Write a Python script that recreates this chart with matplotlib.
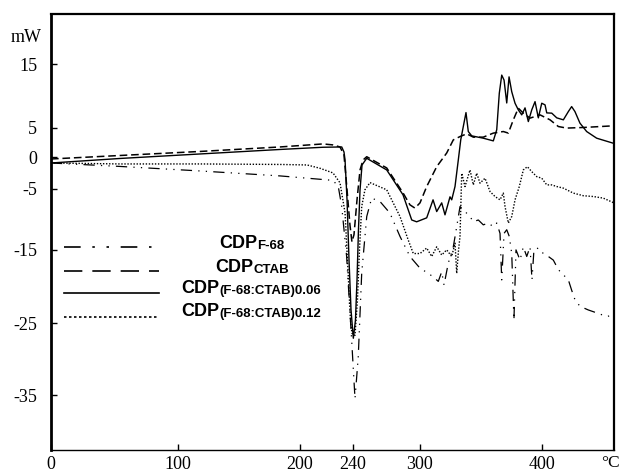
import matplotlib
matplotlib.use('Agg')
import matplotlib.pyplot as plt
import numpy as np

plt.rcParams['font.family'] = ['Liberation Serif', 'DejaVu Serif']
plt.rcParams['axes.unicode_minus'] = False

# DSC traces: temperature (°C) and heat flow (mW)
t_f68 = [0, 54.3, 118.0, 183.6, 220.4, 224.9, 228.9, 231.5, 235.2, 239.0,
         241.8, 244.7, 247.8, 252.3, 256.7, 264.2, 273.1, 282.1, 291.0, 300.0,
         306.8, 310.9, 315.0, 317.8, 319.7, 323.2, 327.3, 330.1, 332.8, 335.5,
         336.9, 341.0, 343.7, 347.8, 351.9, 356.0, 360.1, 362.9, 365.6, 367.0,
         368.9, 371.1, 373.2, 375.2, 377.0, 378.7, 382.0, 384.7, 387.5, 390.2,
         391.8, 393.4, 397.0, 401.1, 405.2, 409.3, 413.4, 417.5, 421.6, 424.3,
         427.0, 431.1, 437.9, 444.8, 453.0, 458.4]
q_f68 = [-0.94, -1.48, -2.19, -2.97, -3.59, -3.67, -4.64, -7.9, -15.9, -27.4,
         -35.5, -29.7, -18.2, -9.54, -6.52, -7.08, -8.98, -12.8, -15.9, -17.5,
         -18.2, -18.7, -19.3, -18.0, -19.8, -16.8, -14.5, -11.2, -7.9, -8.44,
         -8.72, -9.54, -10.4, -10.1, -10.9, -10.6, -11.2, -10.6, -12.3, -19.1,
         -12.3, -11.7, -12.8, -15.5, -24.6, -15.0, -16.4, -14.5, -15.9, -14.5,
         -19.1, -15.0, -14.7, -15.5, -15.9, -16.4, -17.7, -18.4, -19.1, -20.5,
         -21.8, -22.7, -23.2, -23.6, -24.1, -23.9]

t_ctab = [0, 54.3, 118.0, 183.6, 217.4, 224.9, 230.2, 233.2, 235.5, 237.7,
          239.2, 240.9, 243.6, 246.3, 249.0, 252.3, 270.2, 284.8, 291.0, 295.5,
          300.0, 305.5, 313.7, 321.9, 327.3, 332.8, 338.3, 343.7, 351.9, 360.1,
          368.3, 372.4, 376.5, 380.6, 384.7, 390.2, 398.4, 406.6, 413.4, 420.2,
          433.9, 458.4]
q_ctab = [-0.31, 0.26, 0.95, 1.72, 2.24, 2.07, 1.72, 0.34, -5.16, -10.9,
          -13.7, -12.5, -6.8, -2.03, -0.47, 0.05, -1.72, -5.66, -7.62, -8.16,
          -7.3, -4.64, -1.52, 0.69, 2.93, 3.5, 3.97, 3.4, 3.4, 4.09,
          4.36, 4.09, 6.25, 8.08, 7.3, 6.52, 7.03, 6.25, 5.2, 4.95,
          5.05, 5.31]

t_006 = [0, 54.3, 118.0, 183.6, 217.4, 231.5, 233.2, 234.0, 235.5, 237.0,
         238.5, 240.3, 242.2, 243.6, 244.9, 246.3, 248.1, 252.3, 270.2, 284.8,
         292.6, 297.0, 305.5, 310.7, 313.7, 317.8, 320.5, 324.6, 326.0, 328.7,
         331.4, 333.4, 335.5, 337.7, 339.6, 342.4, 351.9, 360.1, 362.9, 365.0,
         367.0, 368.9, 371.1, 373.0, 375.2, 377.9, 380.6, 383.4, 386.1, 388.8,
         391.6, 394.3, 397.0, 399.8, 402.5, 403.9, 408.0, 412.1, 417.5, 421.6,
         424.3, 427.0, 431.1, 436.6, 444.8, 458.4]
q_006 = [-0.94, -0.23, 0.52, 1.29, 1.67, 1.72, 0.86, -0.47, -6.8, -16.4,
         -23.2, -27.1, -24.6, -19.1, -11.7, -5.16, -1.25, -0.2, -2.03, -5.98,
         -10.1, -10.4, -9.75, -6.8, -8.72, -7.3, -9.26, -6.31, -6.8, -4.64,
         -0.47, 2.93, 5.2, 7.39, 4.36, 3.62, 3.22, 2.76, 4.66, 10.42,
         13.28, 12.5, 8.9, 13.0, 10.67, 8.86, 7.81, 7.03, 8.13, 5.98,
         7.81, 9.11, 6.56, 8.86, 8.6, 7.34, 7.3, 6.56, 6.25, 7.55,
         8.33, 7.55, 5.73, 4.36, 3.22, 2.36]

t_012 = [0, 54.3, 118.0, 183.6, 205.3, 215.1, 224.9, 230.2, 234.0, 236.2,
         238.1, 239.2, 241.8, 244.0, 245.8, 247.8, 250.7, 255.2, 270.2, 282.1,
         289.5, 294.0, 300.0, 305.5, 309.6, 313.7, 317.8, 321.9, 326.0, 328.7,
         330.1, 331.6, 332.8, 334.2, 336.9, 341.0, 343.7, 346.5, 349.2, 353.3,
         357.4, 361.5, 365.6, 368.3, 369.7, 372.4, 375.2, 377.9, 381.4, 384.7,
         388.0, 391.6, 395.7, 399.8, 403.9, 408.0, 412.1, 417.5, 425.7, 433.9,
         442.1, 450.2, 458.4]
q_012 = [-0.94, -1.09, -1.09, -1.17, -1.25, -1.77, -2.5, -4.06, -8.93, -17.7,
         -24.6, -26.4, -26.7, -21.8, -15.0, -7.9, -5.16, -4.02, -5.16, -9.54,
         -13.4, -15.5, -15.5, -14.7, -15.9, -14.5, -15.7, -15.0, -15.9, -13.9,
         -18.2, -15.0, -12.8, -2.55, -4.64, -2.03, -4.38, -2.55, -4.11, -3.33,
         -5.44, -6.26, -6.8, -5.7, -7.9, -10.6, -9.54, -6.8, -4.64, -2.03,
         -1.52, -2.3, -3.08, -3.33, -4.38, -4.38, -4.64, -4.89, -5.7, -6.13,
         -6.26, -6.52, -7.25]

x_ticks = [0, 100, 200, 240, 300, 400]
y_ticks = [15, 5, 0, -5, -15, -25, -35]

# the printed axes are not evenly spaced: value -> fraction of axis length
x_knots = [0, 100, 200, 240, 300, 400, 459]
x_frac = [0, 0.2256, 0.4423, 0.5364, 0.6554, 0.8721, 1.0]
y_knots = [-42.6, -35, -25, -15, -5, 0, 5, 15, 22.8]
y_frac = [0, 0.126, 0.291, 0.459, 0.599, 0.672, 0.739, 0.885, 1.0]


def piecewise(xp, fp):
    xp = np.asarray(xp, float)
    fp = np.asarray(fp, float)

    def f(v):
        v = np.asarray(v, float)
        mid = np.interp(v, xp, fp)
        lo = fp[0] + (v - xp[0]) * (fp[1] - fp[0]) / (xp[1] - xp[0])
        hi = fp[-1] + (v - xp[-1]) * (fp[-1] - fp[-2]) / (xp[-1] - xp[-2])
        return np.where(v < xp[0], lo, np.where(v > xp[-1], hi, mid))
    return f


fig = plt.figure(figsize=(6.2, 4.72), dpi=100)
ax = fig.add_axes([51 / 620, 22 / 472, 563 / 620, 436 / 472])
ax.set_xscale('function', functions=(piecewise(x_knots, x_frac), piecewise(x_frac, x_knots)))
ax.set_yscale('function', functions=(piecewise(y_knots, y_frac), piecewise(y_frac, y_knots)))

dashdotdot = (0, (9, 5, 1, 5, 1, 5))
ax.plot(t_f68, q_f68, color='black', lw=0.9, linestyle=dashdotdot)
ax.plot(t_ctab, q_ctab, color='black', lw=1.1, linestyle=(0, (5, 2.5)))
ax.plot(t_006, q_006, color='black', lw=1.0, linestyle='-')
ax.plot(t_012, q_012, color='black', lw=1.0, linestyle=(0, (1, 1.2)))

ax.set_xlim(0, 459)
ax.set_ylim(-42.6, 22.8)
ax.set_xticks(x_ticks)
ax.set_xticklabels([str(v) for v in x_ticks])
ax.set_yticks(y_ticks)
ax.set_yticklabels([str(v) for v in y_ticks])
ax.minorticks_off()
ax.tick_params(axis='both', direction='in', length=4, width=1, labelsize=13)
ax.tick_params(axis='x', pad=4)
ax.tick_params(axis='y', pad=10)
ax.spines['left'].set_linewidth(2.0)
ax.spines['top'].set_linewidth(1.6)
ax.spines['right'].set_linewidth(1.6)
ax.spines['bottom'].set_linewidth(1.0)

ax.text(-0.044, 0.947, 'mW', transform=ax.transAxes, ha='center', va='center', fontsize=13)
ax.text(0.993, -0.012, '°C', transform=ax.transAxes, ha='center', va='top', fontsize=12.5)

# hand-built legend: sample line on the left, centred bold label with subscript
legend_rows = [
    ((0, (10, 7, 1.5, 7, 1.5, 7)), 'F-68', 0.466, 0.463, 0.298),
    ((0, (11, 6)), 'CTAB', 0.411, 0.409, 0.291),
    ('-', '(F-68:CTAB)0.06', 0.359, 0.359, 0.231),
    ((0, (1.5, 1.5)), '(F-68:CTAB)0.12', 0.304, 0.307, 0.231),
]
for ls, sub, y_line, y_text, x_text in legend_rows:
    ax.plot([0.023, 0.192], [y_line, y_line], transform=ax.transAxes,
            color='black', lw=1.2, linestyle=ls, clip_on=False)
    main = ax.text(x_text, y_text, 'CDP', transform=ax.transAxes, ha='left',
                   va='baseline', fontsize=13, fontweight='bold',
                   family=['Liberation Sans', 'DejaVu Sans'])
    ax.annotate(sub, xy=(1, 0), xycoords=main, xytext=(0.5, 0),
                textcoords='offset points', ha='left', va='bottom',
                fontsize=9.5, fontweight='bold',
                family=['Liberation Sans', 'DejaVu Sans'])

fig.savefig('out.png', dpi=100)
